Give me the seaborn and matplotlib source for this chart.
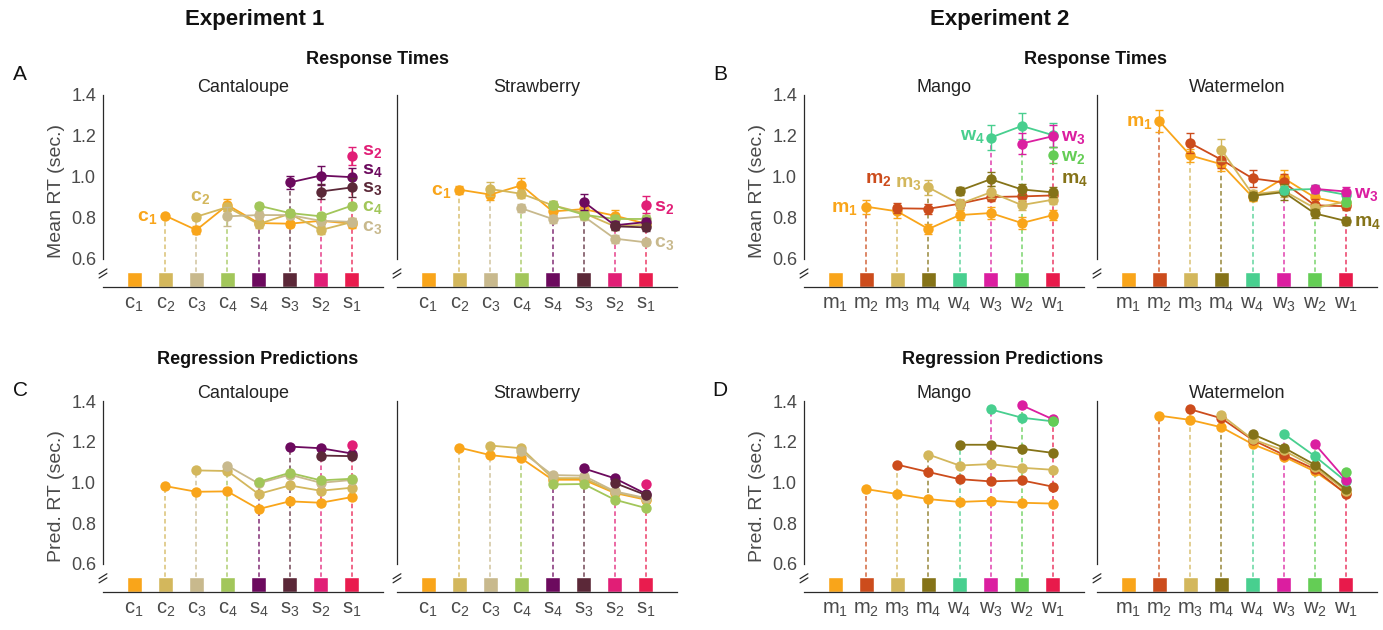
import pandas as pd
import matplotlib
matplotlib.use("Agg")
import matplotlib.pyplot as plt
import seaborn as sns

# Style: white background, Helvetica-like text
sns.set_theme(style="white")
plt.rcParams["font.family"] = ["Liberation Sans", "DejaVu Sans"]
plt.rcParams["mathtext.fontset"] = "custom"
plt.rcParams["mathtext.rm"] = "Liberation Sans"
plt.rcParams["mathtext.bf"] = "Liberation Sans:bold"
plt.rcParams["mathtext.it"] = "Liberation Sans:italic"

# Items shown along the x axis (the coloured squares)
EXP1_ITEMS = ["c_1", "c_2", "c_3", "c_4", "s_4", "s_3", "s_2", "s_1"]
EXP2_ITEMS = ["m_1", "m_2", "m_3", "m_4", "w_4", "w_3", "w_2", "w_1"]
EXP1_COLORS = ["#F9A51A", "#D3B75C", "#C8B98D", "#A2C65A",
               "#6C0A5E", "#5B2838", "#E11E76", "#E91C4E"]
EXP2_COLORS = ["#F9A51A", "#CC4C1C", "#D3B75C", "#857318",
               "#48CF8F", "#DB1EA0", "#64CD55", "#E81A4B"]

# Series k (item k) starts at position k+1 and runs to the last position
# --- A: mean RT, Experiment 1
A_CANT = [
    [0.811, 0.741, 0.863, 0.775, 0.772, 0.786, 0.772],
    [0.806, 0.853, 0.770, 0.820, 0.741, 0.780],
    [0.808, 0.814, 0.814, 0.786, 0.781],
    [0.860, 0.824, 0.808, 0.860],
    [0.973, 1.007, 0.999],
    [0.929, 0.949],
    [1.103],
]
A_CANT_SEM = [
    [0.008, 0.020, 0.030, 0.015, 0.015, 0.015, 0.020],
    [0.015, 0.020, 0.020, 0.020, 0.020, 0.020],
    [0.045, 0.020, 0.020, 0.020, 0.020],
    [0.012, 0.015, 0.015, 0.012],
    [0.030, 0.045, 0.045],
    [0.035, 0.045],
    [0.045],
]
A_STRAW = [
    [0.938, 0.914, 0.959, 0.832, 0.843, 0.811, 0.772],
    [0.941, 0.918, 0.862, 0.824, 0.759, 0.767],
    [0.847, 0.795, 0.808, 0.699, 0.681],
    [0.862, 0.816, 0.795, 0.795],
    [0.879, 0.764, 0.780],
    [0.759, 0.754],
    [0.865],
]
A_STRAW_SEM = [
    [0.020, 0.025, 0.035, 0.020, 0.020, 0.030, 0.020],
    [0.035, 0.020, 0.020, 0.020, 0.020, 0.020],
    [0.020, 0.020, 0.020, 0.020, 0.015],
    [0.020, 0.020, 0.020, 0.020],
    [0.040, 0.020, 0.020],
    [0.020, 0.020],
    [0.040],
]
# --- B: mean RT, Experiment 2
B_MANGO = [
    [0.855, 0.832, 0.746, 0.814, 0.824, 0.775, 0.814],
    [0.847, 0.845, 0.869, 0.902, 0.905, 0.910],
    [0.949, 0.868, 0.925, 0.863, 0.889],
    [0.933, 0.989, 0.939, 0.925],
    [1.192, 1.249, 1.204],
    [1.163, 1.199],
    [1.108],
]
B_MANGO_SEM = [
    [0.035, 0.030, 0.025, 0.025, 0.030, 0.030, 0.025],
    [0.025, 0.025, 0.020, 0.020, 0.020, 0.020],
    [0.035, 0.025, 0.030, 0.025, 0.020],
    [0.020, 0.035, 0.025, 0.025],
    [0.060, 0.065, 0.060],
    [0.050, 0.055],
    [0.040],
]
B_WATER = [
    [1.272, 1.105, 1.062, 0.902, 0.994, 0.900, 0.869],
    [1.165, 1.084, 0.993, 0.973, 0.862, 0.857],
    [1.132, 0.915, 0.933, 0.848, 0.880],
    [0.908, 0.926, 0.822, 0.785],
    [0.937, 0.941, 0.913],
    [0.942, 0.929],
    [0.878],
]
B_WATER_SEM = [
    [0.055, 0.030, 0.035, 0.020, 0.040, 0.030, 0.020],
    [0.050, 0.040, 0.040, 0.040, 0.030, 0.020],
    [0.055, 0.020, 0.030, 0.020, 0.020],
    [0.020, 0.040, 0.020, 0.020],
    [0.020, 0.020, 0.020],
    [0.020, 0.020],
    [0.020],
]
# --- C: regression predictions, Experiment 1
C_CANT = [
    [0.982, 0.954, 0.956, 0.869, 0.907, 0.900, 0.928],
    [1.059, 1.056, 0.943, 0.985, 0.959, 0.974],
    [1.082, 0.995, 1.038, 0.998, 1.012],
    [1.002, 1.047, 1.010, 1.018],
    [1.176, 1.168, 1.142],
    [1.132, 1.129],
    [1.186],
]
C_STRAW = [
    [1.171, 1.134, 1.118, 1.013, 1.013, 0.948, 0.915],
    [1.181, 1.168, 1.021, 1.021, 0.952, 0.920],
    [1.152, 1.036, 1.033, 0.956, 0.923],
    [0.990, 0.992, 0.915, 0.874],
    [1.069, 1.020, 0.944],
    [0.997, 0.938],
    [0.993],
]
# --- D: regression predictions, Experiment 2
D_MANGO = [
    [0.967, 0.943, 0.918, 0.904, 0.910, 0.900, 0.896],
    [1.087, 1.051, 1.016, 1.005, 1.010, 0.979],
    [1.137, 1.083, 1.090, 1.072, 1.062],
    [1.185, 1.185, 1.165, 1.145],
    [1.359, 1.318, 1.300],
    [1.379, 1.310],
    [1.304],
]
D_WATER = [
    [1.328, 1.307, 1.271, 1.188, 1.127, 1.054, 0.948],
    [1.359, 1.315, 1.209, 1.136, 1.065, 0.943],
    [1.331, 1.212, 1.157, 1.075, 0.959],
    [1.237, 1.171, 1.087, 0.966],
    [1.239, 1.129, 1.005],
    [1.189, 1.013],
    [1.050],
]

# Axis geometry
Y_BASE = 0.463
SQ_H = 0.074
YTICKS = [0.6, 0.8, 1.0, 1.2, 1.4]
FIG_W, FIG_H = 1383, 630
AX_W = 280
TEXT_GREY = "#4a4a4a"
AXIS_COL = "#2a2a2a"


def px_rect(left, top, width, bottom):
    return [left / FIG_W, 1 - bottom / FIG_H, width / FIG_W, (bottom - top) / FIG_H]


def draw_panel(ax, series, colors, items, title, sems=None, ylabel=None, labels=()):
    # coloured item squares on the baseline
    ax.bar(range(8), SQ_H, bottom=Y_BASE, width=0.48, color=colors, zorder=2)

    # dashed connectors from each square to the series starting there
    for k, vals in enumerate(series):
        x0 = k + 1
        ax.plot([x0, x0], [Y_BASE + SQ_H, vals[0]], ls=(0, (3, 2)), lw=1.1,
                color=colors[x0], alpha=0.85, zorder=1)

    for k, vals in enumerate(series):
        df = pd.DataFrame({"pos": range(k + 1, k + 1 + len(vals)), "rt": vals})
        sns.lineplot(data=df, x="pos", y="rt", color=colors[k], marker="o",
                     markersize=7.5, markeredgewidth=0, lw=1.3, ax=ax,
                     zorder=3, clip_on=False)
        if sems is not None:
            ax.errorbar(df["pos"], df["rt"], yerr=sems[k], fmt="none",
                        ecolor=colors[k], elinewidth=1, capsize=3,
                        capthick=1, zorder=3, clip_on=False)

    # series labels
    for k, xi, dx, dy, ha in labels:
        name, sub = items[k].split("_")
        ax.annotate(rf"$\mathbf{{{name}}}_\mathbf{{{sub}}}$",
                    xy=(k + 1 + xi, series[k][xi]), xytext=(dx, dy - 3.5),
                    textcoords="offset points", ha=ha, va="baseline",
                    color=colors[k], fontsize=14, annotation_clip=False)

    ax.set_xlim(-1, 8)
    ax.set_ylim(Y_BASE, 1.4)
    sns.despine(ax=ax)
    ax.spines["left"].set_bounds(0.6, 1.4)
    for s in ("left", "bottom"):
        ax.spines[s].set_color(AXIS_COL)
        ax.spines[s].set_linewidth(0.9)

    ax.set_yticks(YTICKS)
    if ylabel:
        ax.set_yticklabels([f"{t:.1f}" for t in YTICKS])
        ax.set_ylabel(ylabel, fontsize=14, color=TEXT_GREY, labelpad=4)
    else:
        ax.set_yticklabels([])
        ax.set_ylabel("")
    ax.tick_params(axis="y", direction="in", length=4, width=0.9,
                   color=AXIS_COL, labelsize=13, labelcolor=TEXT_GREY, pad=5)

    ax.set_xticks(range(8))
    ax.set_xticklabels([rf"$\mathrm{{{it.split('_')[0]}}}_{{{it.split('_')[1]}}}$"
                        for it in items])
    ax.tick_params(axis="x", length=0, labelsize=14.5, labelcolor=TEXT_GREY, pad=6)
    ax.set_xlabel("")

    # axis break mark
    tr = ax.get_yaxis_transform()
    for y0 in (0.507, 0.527):
        ax.plot([-0.014, 0.014], [y0, y0 + 0.024], color=AXIS_COL, lw=0.9,
                transform=tr, clip_on=False)

    ax.text(0.5, 1.04, title, transform=ax.transAxes, ha="center",
            va="center", fontsize=13, color="#222222")


fig = plt.figure(figsize=(FIG_W / 100, FIG_H / 100), dpi=100)

top_row = (95, 287)
bot_row = (401, 591.7)
lefts = [103, 397, 804, 1097]

axA1 = fig.add_axes(px_rect(lefts[0], top_row[0], AX_W, top_row[1]))
axA2 = fig.add_axes(px_rect(lefts[1], top_row[0], AX_W, top_row[1]))
axB1 = fig.add_axes(px_rect(lefts[2], top_row[0], AX_W, top_row[1]))
axB2 = fig.add_axes(px_rect(lefts[3], top_row[0], AX_W, top_row[1]))
axC1 = fig.add_axes(px_rect(lefts[0], bot_row[0], AX_W, bot_row[1]))
axC2 = fig.add_axes(px_rect(lefts[1], bot_row[0], AX_W, bot_row[1]))
axD1 = fig.add_axes(px_rect(lefts[2], bot_row[0], AX_W, bot_row[1]))
axD2 = fig.add_axes(px_rect(lefts[3], bot_row[0], AX_W, bot_row[1]))

# (series index, point index, dx pt, dy pt, ha)
draw_panel(axA1, A_CANT, EXP1_COLORS, EXP1_ITEMS, "Cantaloupe", A_CANT_SEM,
           "Mean RT (sec.)",
           [(0, 0, -6, 0, "right"), (1, 0, 3, 15, "center"),
            (6, 0, 7, 4, "left"), (4, 2, 7, 6, "left"), (5, 1, 7, 0, "left"),
            (3, 3, 7, 0, "left"), (2, 4, 7, -3, "left")])
draw_panel(axA2, A_STRAW, EXP1_COLORS, EXP1_ITEMS, "Strawberry", A_STRAW_SEM,
           None,
           [(0, 0, -6, 0, "right"), (6, 0, 6, -1, "left"), (2, 4, 6, 0, "left")])
draw_panel(axB1, B_MANGO, EXP2_COLORS, EXP2_ITEMS, "Mango", B_MANGO_SEM,
           "Mean RT (sec.)",
           [(0, 0, -6, 0, "right"), (1, 0, -4, 22, "right"),
            (2, 0, -5, 4, "right"), (4, 0, -4, 2, "right"),
            (5, 1, 6, 0, "left"), (6, 0, 6, -1, "left"), (3, 3, 6, 10, "left")])
draw_panel(axB2, B_WATER, EXP2_COLORS, EXP2_ITEMS, "Watermelon", B_WATER_SEM,
           None,
           [(0, 0, -5, 0, "right"), (5, 1, 6, -1, "left"), (3, 3, 6, 0, "left")])
draw_panel(axC1, C_CANT, EXP1_COLORS, EXP1_ITEMS, "Cantaloupe",
           ylabel="Pred. RT (sec.)")
draw_panel(axC2, C_STRAW, EXP1_COLORS, EXP1_ITEMS, "Strawberry")
draw_panel(axD1, D_MANGO, EXP2_COLORS, EXP2_ITEMS, "Mango",
           ylabel="Pred. RT (sec.)")
draw_panel(axD2, D_WATER, EXP2_COLORS, EXP2_ITEMS, "Watermelon")

# Figure-level titles and panel letters
fig.text(255 / FIG_W, 1 - 20 / FIG_H, "Experiment 1", ha="center", va="center",
         fontsize=16, fontweight="bold", color="#111111")
fig.text(1000 / FIG_W, 1 - 20 / FIG_H, "Experiment 2", ha="center", va="center",
         fontsize=16, fontweight="bold", color="#111111")
fig.text(377 / FIG_W, 1 - 60 / FIG_H, "Response Times", ha="center", va="center",
         fontsize=13, fontweight="bold", color="#111111")
fig.text(1095 / FIG_W, 1 - 60 / FIG_H, "Response Times", ha="center", va="center",
         fontsize=13, fontweight="bold", color="#111111")
fig.text(258 / FIG_W, 1 - 360 / FIG_H, "Regression Predictions", ha="center",
         va="center", fontsize=13, fontweight="bold", color="#111111")
fig.text(1003 / FIG_W, 1 - 360 / FIG_H, "Regression Predictions", ha="center",
         va="center", fontsize=13, fontweight="bold", color="#111111")
for letter, (lx, ly) in zip("ABCD", [(20, 75), (720, 75), (20, 390), (720, 390)]):
    fig.text(lx / FIG_W, 1 - ly / FIG_H, letter, ha="center", va="center",
             fontsize=15, color="#111111")

fig.savefig("out.png", dpi=100)
